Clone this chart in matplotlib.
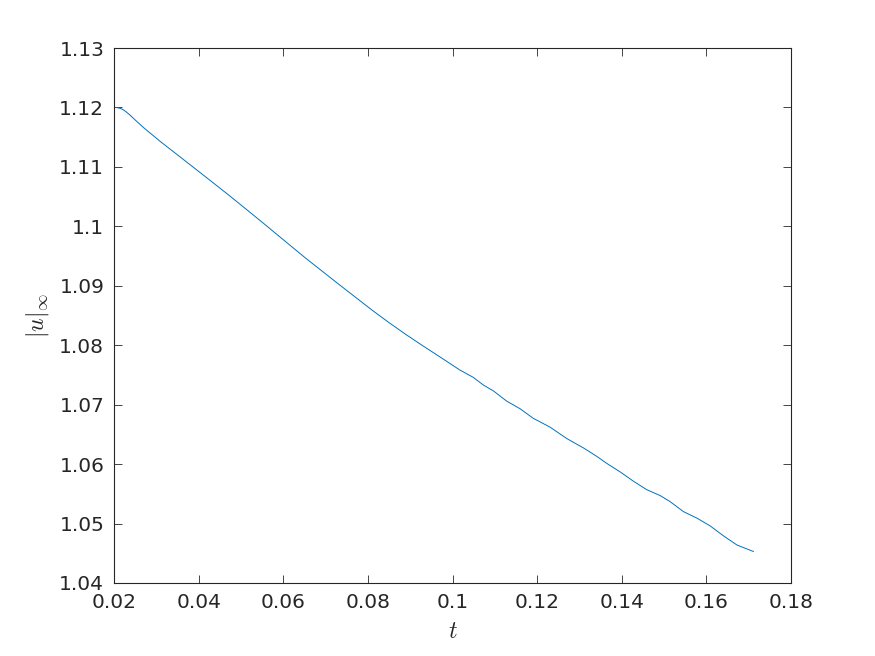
import matplotlib
matplotlib.use('Agg')
import matplotlib.pyplot as plt

plt.rcParams['font.family'] = 'DejaVu Sans'
plt.rcParams['mathtext.fontset'] = 'cm'

# values
t = [0.0205, 0.0212, 0.0220, 0.0228, 0.0238, 0.0250, 0.0270, 0.0309,
     0.0399, 0.0474, 0.0550, 0.0623, 0.0652, 0.0734, 0.0810, 0.0850,
     0.0890, 0.0930, 0.0971, 0.1018, 0.1049, 0.1073, 0.1097, 0.1128,
     0.1160, 0.1191, 0.1231, 0.1270, 0.1310, 0.1341, 0.1365, 0.1396,
     0.1428, 0.1459, 0.1491, 0.1514, 0.1546, 0.1578, 0.1609, 0.1641,
     0.1672, 0.1711]
u_inf = [1.1200, 1.1199, 1.1197, 1.1193, 1.1187, 1.1179, 1.1166, 1.1143,
         1.1093, 1.1051, 1.1007, 1.0964, 1.0947, 1.0901, 1.0859, 1.0838,
         1.0818, 1.0799, 1.0780, 1.0758, 1.0746, 1.0733, 1.0723, 1.0706,
         1.0693, 1.0677, 1.0662, 1.0643, 1.0627, 1.0613, 1.0601, 1.0587,
         1.0571, 1.0557, 1.0547, 1.0537, 1.0520, 1.0509, 1.0496, 1.0479,
         1.0464, 1.0453]

xticks = [0.02, 0.04, 0.06, 0.08, 0.1, 0.12, 0.14, 0.16, 0.18]
xtick_labels = ['0.02', '0.04', '0.06', '0.08', '0.1', '0.12', '0.14', '0.16', '0.18']
yticks = [1.04, 1.05, 1.06, 1.07, 1.08, 1.09, 1.1, 1.11, 1.12, 1.13]
ytick_labels = ['1.04', '1.05', '1.06', '1.07', '1.08', '1.09', '1.1', '1.11', '1.12', '1.13']

fig = plt.figure(figsize=(8.75, 6.56), dpi=100)
ax = fig.add_axes([0.1303, 0.1113, 0.7737, 0.8155])

ax.plot(t, u_inf, color='#0072BD', linewidth=0.7)

ax.set_xlim(0.02, 0.18)
ax.set_ylim(1.04, 1.13)
ax.set_xticks(xticks)
ax.set_xticklabels(xtick_labels)
ax.set_yticks(yticks)
ax.set_yticklabels(ytick_labels)

gray = '#262626'
ax.tick_params(direction='in', length=6, width=0.6, colors=gray,
               labelsize=14.5, top=True, right=True, pad=7)
for s in ax.spines.values():
    s.set_linewidth(0.8)
    s.set_color(gray)

ax.set_xlabel(r'$t$', fontsize=17, color=gray, labelpad=5)
ax.set_ylabel(r'$|u|_\infty$', fontsize=17, color=gray, labelpad=6)

fig.savefig('out.png', dpi=100)
